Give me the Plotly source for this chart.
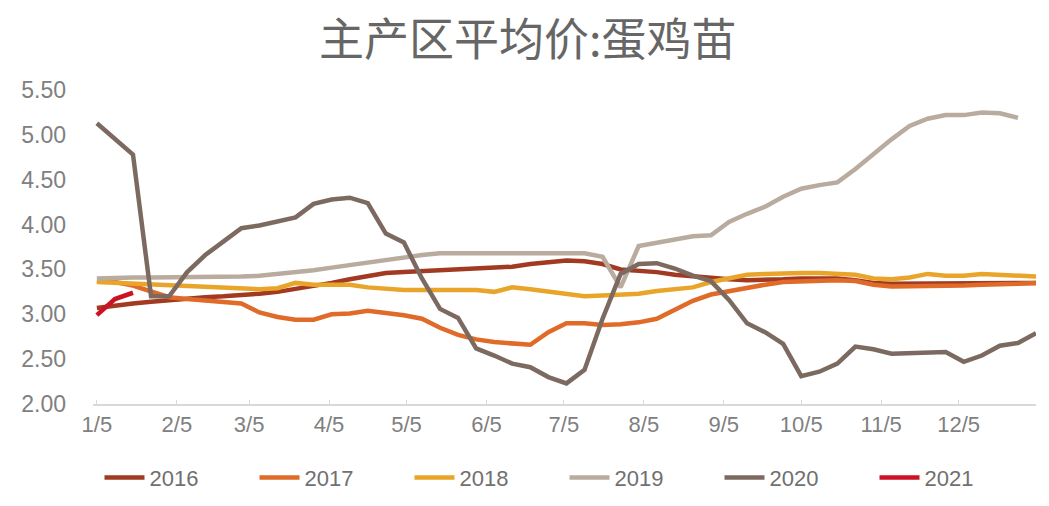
import plotly.graph_objects as go

# weekly observations, starting 1/5 (x = day offset from Jan 5)
years = ["2016", "2017", "2018", "2019", "2020", "2021"]

v2016 = [3.07, 3.10, 3.12, 3.14, 3.16, 3.17, 3.19, 3.20, 3.21, 3.23, 3.25, 3.28, 3.31, 3.35,
         3.39, 3.43, 3.46, 3.47, 3.48, 3.49, 3.50, 3.51, 3.51, 3.53, 3.56, 3.58, 3.60, 3.59,
         3.56, 3.50, 3.49, 3.47, 3.44, 3.42, 3.40, 3.39, 3.38, 3.38, 3.39, 3.40, 3.40, 3.40,
         3.38, 3.35, 3.34, 3.34, 3.34, 3.34, 3.34, 3.34, 3.34, 3.35, 3.35]
v2017 = [3.37, 3.36, 3.32, 3.25, 3.19, 3.17, 3.15, 3.14, 3.12, 3.02, 2.97, 2.94, 2.94, 3.00,
         3.01, 3.04, 3.02, 2.99, 2.95, 2.85, 2.77, 2.72, 2.69, 2.67, 2.66, 2.80, 2.90, 2.90,
         2.88, 2.89, 2.91, 2.95, 3.05, 3.15, 3.22, 3.26, 3.30, 3.33, 3.36, 3.37, 3.38, 3.38,
         3.37, 3.33, 3.31, 3.31, 3.31, 3.31, 3.32, 3.33, 3.33, 3.34, 3.35]
v2018 = [3.36, 3.35, 3.34, 3.33, 3.32, 3.31, 3.30, 3.29, 3.28, 3.28, 3.29, 3.35, 3.33, 3.33,
         3.33, 3.30, 3.28, 3.27, 3.27, 3.27, 3.27, 3.27, 3.25, 3.30, 3.28, 3.25, 3.23, 3.20,
         3.21, 3.22, 3.23, 3.26, 3.28, 3.30, 3.36, 3.40, 3.44, 3.45, 3.46, 3.46, 3.46, 3.45,
         3.44, 3.40, 3.39, 3.41, 3.45, 3.43, 3.43, 3.45, 3.44, 3.43, 3.42]
v2019 = [3.40, 3.41, 3.41, 3.41, 3.41, 3.42, 3.42, 3.42, 3.42, 3.43, 3.45, 3.46, 3.49, 3.52,
         3.55, 3.58, 3.61, 3.64, 3.66, 3.68, 3.68, 3.68, 3.68, 3.68, 3.68, 3.68, 3.68, 3.68,
         3.64, 3.30, 3.76, 3.80, 3.84, 3.87, 3.88, 4.03, 4.12, 4.20, 4.31, 4.40, 4.44, 4.47,
         4.62, 4.79, 4.95, 5.10, 5.18, 5.22, 5.22, 5.25, 5.24, 5.19]
v2020 = [5.13, 4.95, 4.78, 3.20, 3.20, 3.47, 3.66, 3.81, 3.96, 3.99, 4.03, 4.08, 4.23, 4.28,
         4.30, 4.24, 3.90, 3.80, 3.40, 3.06, 2.96, 2.62, 2.54, 2.45, 2.41, 2.30, 2.23, 2.38,
         2.95, 3.45, 3.56, 3.57, 3.51, 3.43, 3.37, 3.16, 2.90, 2.80, 2.67, 2.31, 2.36, 2.45,
         2.64, 2.61, 2.56, 2.57, 2.57, 2.58, 2.47, 2.54, 2.65, 2.68, 2.79]
v2021 = [2.99, 3.17, 3.24]

series = [v2016, v2017, v2018, v2019, v2020, v2021]
colors = ["#a23a22", "#e06a28", "#e9a52a", "#b9ac9e", "#7c6a61", "#cc1224"]

tick_days = [0, 31, 59, 90, 120, 151, 181, 212, 243, 273, 304, 334]
tick_text = ["1/5", "2/5", "3/5", "4/5", "5/5", "6/5", "7/5", "8/5", "9/5", "10/5", "11/5", "12/5"]

fig = go.Figure()
for name, vals, col in zip(years, series, colors):
    fig.add_trace(go.Scatter(
        x=[7 * i for i in range(len(vals))], y=vals, name=name, mode="lines",
        line=dict(color=col, width=4.5), hoverinfo="skip"))

fig.update_layout(
    width=1049, height=506,
    margin=dict(l=93, r=13, t=90, b=102, autoexpand=False),
    paper_bgcolor="white", plot_bgcolor="white",
    font=dict(family="Liberation Sans Narrow, Liberation Sans, Arial, sans-serif", color="#808080"),
    title=dict(text="主产区平均价:蛋鸡苗", x=0.503, xanchor="center", y=1 - 40 / 506, yanchor="middle",
               yref="container",
               font=dict(family="Noto Sans CJK SC, sans-serif", size=45, color="#666666")),
    showlegend=True,
    legend=dict(orientation="h", x=0.5, xanchor="center", y=-0.235, yanchor="middle",
                font=dict(size=22, color="#707070"), entrywidth=100, itemwidth=40,
                bgcolor="rgba(0,0,0,0)"),
    xaxis=dict(range=[-1.5, 364], tickvals=tick_days, ticktext=tick_text,
               showgrid=False, zeroline=False, showline=True, linecolor="#d9d9d9", linewidth=1.5,
               ticks="inside", ticklen=4, tickcolor="#d9d9d9",
               tickfont=dict(size=22, color="#808080")),
    yaxis=dict(range=[2, 5.5], tickvals=[2, 2.5, 3, 3.5, 4, 4.5, 5, 5.5], tickformat=".2f",
               showgrid=False, zeroline=False, showline=False, ticks="",
               ticklabelstandoff=26, tickfont=dict(size=23, color="#808080")),
)

fig.write_html("out.html")
